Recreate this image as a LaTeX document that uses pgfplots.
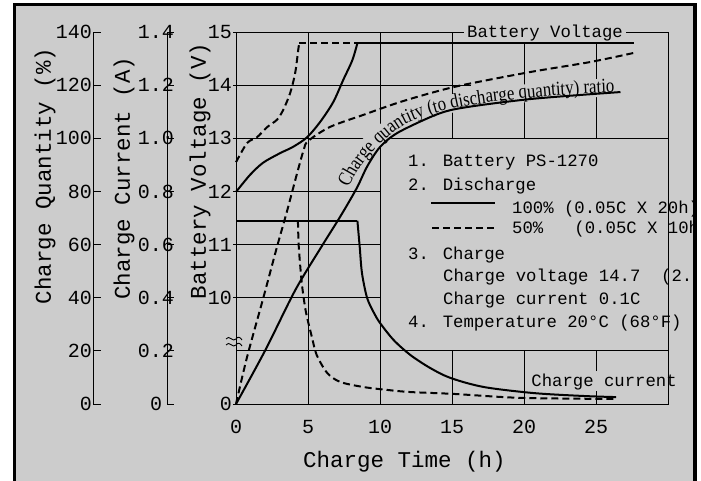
\documentclass[border=0pt]{standalone}
\usepackage{pgfplots}
\pgfplotsset{compat=1.18}
\usepackage{pgfplotstable}
\usepackage{fontspec}
\setmainfont{Liberation Mono}
\newfontfamily\curvefam[FakeStretch=0.84]{Liberation Serif}
\usetikzlibrary{decorations.text}
\newcommand\tickfont{\fontsize{20}{22}\selectfont}
\newcommand\labfont{\fontsize{22.5}{25}\selectfont}
\newcommand\legfont{\fontsize{17.3}{20}\selectfont}
\newcommand\curvefont{\curvefam\fontsize{20}{22}\selectfont}
\definecolor{bg}{RGB}{204,204,204}

% battery voltage (V)
\pgfplotstableread{
h V
0 11.99
0.97 12.31
1.88 12.54
3.06 12.72
3.97 12.84
4.94 13.02
5.85 13.31
6.75 13.68
7.45 14.10
8.08 14.47
8.43 14.79
}\voltsolidrise
\pgfplotstableread{
h V
8.43 14.79
27.65 14.79
}\voltsolidflat
\pgfplotstableread{
h V
0 12.55
0.77 12.91
1.46 13.02
2.16 13.21
2.85 13.35
3.27 13.53
3.76 13.85
4.11 14.23
4.32 14.66
4.39 14.79
}\voltdashrise
\pgfplotstableread{
h V
4.39 14.79
8.43 14.79
}\voltdashflat
% charge quantity (%)
\pgfplotstableread{
h Q
0 0
2.04 20.3
4.12 42.9
5.97 59.5
7.01 68.5
7.73 75.0
8.43 81.7
9.12 89.5
10.0 96.7
11.2 102.0
13.5 108.0
14.9 110.6
17.0 112.5
20.5 114.8
23.9 116.3
26.7 117.4
}\qsolid
\pgfplotstableread{
h Q
0 0
0.76 17.5
1.92 40.4
2.85 59.2
3.54 72.5
4.24 86.8
4.70 95.6
5.01 99.0
6.54 104.3
8.84 108.8
11.2 113.3
13.5 117.0
15.8 120.1
20.5 125.0
24.6 128.7
27.6 132.1
}\qdash
% charge current (A)
\pgfplotstableread{
h A
0 0.69
8.43 0.69
}\isolidflat
\pgfplotstableread{
h A
8.43 0.69
8.59 0.592
8.75 0.492
9.10 0.40
9.56 0.345
10.0 0.305
10.96 0.240
12.12 0.184
13.5 0.135
14.9 0.098
17.2 0.064
20.7 0.041
24.2 0.030
26.4 0.026
}\isoliddecay
\pgfplotstableread{
h A
0 0.69
4.30 0.69
}\idashflat
\pgfplotstableread{
h A
4.30 0.69
4.35 0.60
4.46 0.52
4.60 0.44
4.86 0.345
5.28 0.25
5.60 0.185
6.33 0.117
7.24 0.083
8.84 0.064
10.5 0.053
12.1 0.045
15.1 0.038
19.8 0.023
26.4 0.019
}\idashdecay

\begin{document}
\begin{tikzpicture}[x=1pt,y=1pt]
\path[use as bounding box] (0,0) rectangle (701,480);
\fill[white] (0,0) rectangle (701,480);
\fill[bg] (14.5,-10) rectangle (695,475.5);

% legend text (drawn before the axis so the right frame line lies over it)
\begin{scope}
\clip (0,0) rectangle (693.5,480);
\node[anchor=west, inner sep=0pt, font=\legfont] at (408,317) {1. Battery PS-1270};
\node[anchor=west, inner sep=0pt, font=\legfont] at (408,294) {2. Discharge};
\node[anchor=west, inner sep=0pt, font=\legfont] at (512,271) {100\% (0.05C X 20h)};
\node[anchor=west, inner sep=0pt, font=\legfont] at (512,251) {50\%~~~(0.05C X 10h};
\node[anchor=west, inner sep=0pt, font=\legfont] at (408,225) {3. Charge};
\node[anchor=west, inner sep=0pt, font=\legfont] at (443,203) {Charge voltage 14.7~~(2.};
\node[anchor=west, inner sep=0pt, font=\legfont] at (443,180) {Charge current 0.1C};
\node[anchor=west, inner sep=0pt, font=\legfont] at (408,157) {4. Temperature 20°C (68°F)};
\end{scope}
\draw[line width=2pt] (431,277) -- (495,277);
\draw[line width=2pt, dash pattern=on 7pt off 4pt] (432,252) -- (497,252);

% charge quantity axis
\begin{axis}[at={(93pt,76pt)}, anchor=south west, scale only axis, width=20pt, height=372pt,
  xmin=0, xmax=1, ymin=0, ymax=140, hide x axis, axis y line*=left,
  y axis line style={line width=0.9pt},
  ytick={0,20,40,60,80,100,120,140}, yticklabels={0,20,40,60,80,100,120,140},
  tick align=inside, major tick length=8pt, ytick style={line width=0.9pt, black},
  yticklabel style={font=\tickfont, anchor=east, inner sep=0pt, xshift=-1pt}]
\end{axis}
% charge current axis
\begin{axis}[at={(167pt,76pt)}, anchor=south west, scale only axis, width=20pt, height=372pt,
  xmin=0, xmax=1, ymin=0, ymax=1.4, hide x axis, axis y line*=left,
  y axis line style={line width=0.9pt},
  ytick={0,0.2,0.4,0.6,0.8,1.0,1.2,1.4}, yticklabels={0,0.2,0.4,0.6,0.8,1.0,1.2,1.4},
  tick align=inside, major tick length=7pt, ytick style={line width=0.9pt, black},
  yticklabel style={font=\tickfont, anchor=center, inner sep=0pt, xshift=-11pt}]
\end{axis}

% main axis
\begin{axis}[at={(236pt,76pt)}, anchor=south west, scale only axis, width=432pt, height=372pt,
  xmin=0, xmax=30, ymin=0, ymax=140, clip=false,
  axis line style={line width=0.9pt, black},
  xtick={0,5,10,15,20,25}, xticklabels={0,5,10,15,20,25},
  xtick style={draw=none},
  xticklabel style={font=\tickfont, anchor=center, inner sep=0pt, yshift=-20pt},
  ytick={0,40,60,80,100,120,140}, yticklabels={0,10,11,12,13,14,15},
  ytick pos=left, tick align=center, major tick length=6pt,
  ytick style={line width=0.9pt, black},
  yticklabel style={font=\tickfont, anchor=east, inner sep=0pt, xshift=-1pt}]
% grid lines
\draw[line width=0.9pt] (5,0) -- (5,140);
\draw[line width=0.9pt] (10,0) -- (10,140);
\draw[line width=0.9pt] (15,0) -- (15,20);
\draw[line width=0.9pt] (15,100) -- (15,140);
\draw[line width=0.9pt] (20,0) -- (20,20);
\draw[line width=0.9pt] (20,100) -- (20,140);
\draw[line width=0.9pt] (25,0) -- (25,4.9);
\draw[line width=0.9pt] (25,12.4) -- (25,20);
\draw[line width=0.9pt] (25,100) -- (25,140);
\draw[line width=0.9pt] (0,20) -- (30,20);
\draw[line width=0.9pt] (0,40) -- (10,40);
\draw[line width=0.9pt] (0,60) -- (10,60);
\draw[line width=0.9pt] (0,80) -- (10,80);
\draw[line width=0.9pt] (0,100) -- (30,100);
\draw[line width=0.9pt] (0,120) -- (16.3,120);
% background band behind the curved label
\addplot[bg, line width=18pt, smooth] coordinates {
(7.3,83.3) (8.15,90.0) (9.1,96.6) (10.35,102.5) (11.6,107.0) (13.37,110.7)
(15.53,113.7) (18.31,115.9) (21.87,117.8) (25.35,119.0) (27.44,119.4)};
\node[fill=bg, inner xsep=3pt, inner ysep=1pt, font=\legfont] at (21.46,139.8) {Battery Voltage};
% battery voltage
\addplot[black, line width=2pt, smooth] table[x=h, y expr=40+(\thisrow{V}-10)*20] {\voltsolidrise};
\addplot[black, line width=2pt] table[x=h, y expr=40+(\thisrow{V}-10)*20] {\voltsolidflat};
\addplot[black, line width=2pt, smooth, dash pattern=on 7pt off 4pt] table[x=h, y expr=40+(\thisrow{V}-10)*20] {\voltdashrise};
\addplot[black, line width=2pt, dash pattern=on 7pt off 4pt] table[x=h, y expr=40+(\thisrow{V}-10)*20] {\voltdashflat};
% charge quantity
\addplot[black, line width=2pt, smooth] table[x=h, y=Q] {\qsolid};
\addplot[black, line width=2pt, smooth, dash pattern=on 7pt off 4pt] table[x=h, y=Q] {\qdash};
% charge current
\addplot[black, line width=2pt] table[x=h, y expr=\thisrow{A}*100] {\isolidflat};
\addplot[black, line width=2pt, smooth] table[x=h, y expr=\thisrow{A}*100] {\isoliddecay};
\addplot[black, line width=2pt, dash pattern=on 7pt off 4pt] table[x=h, y expr=\thisrow{A}*100] {\idashflat};
\addplot[black, line width=2pt, smooth, dash pattern=on 7pt off 4pt] table[x=h, y expr=\thisrow{A}*100] {\idashdecay};
\node[font=\legfont, inner sep=0pt] at (25.56,8.3) {Charge current};
\end{axis}

% curved label
\path[decorate, decoration={text along path,
  text={|\curvefont|Charge quantity (to discharge quantity) ratio}}]
  plot[smooth] coordinates {(348.5,292.5) (358.5,310.5) (372,328) (389,344) (406,356) (430,365.5)
  (460,373) (500,379) (550,384) (600,387) (650,388.5)};

% axis titles
\node[rotate=90, font=\labfont] at (45,304) {Charge Quantity (\%)};
\node[rotate=90, font=\labfont] at (124,302) {Charge Current (A)};
\node[rotate=90, font=\labfont] at (200,309) {Battery Voltage (V)};
\node[font=\labfont] at (404.5,18) {Charge Time (h)};

% axis break mark
\draw[line width=0.9pt] (226,141) .. controls (229,146) and (233,137) .. (236,141) .. controls (238,144) and (240,143) .. (242,140);
\draw[line width=0.9pt] (226,135) .. controls (229,140) and (233,131) .. (236,135) .. controls (238,138) and (240,137) .. (242,134);

% outer frame
\draw[line width=3.5pt] (14.5,-10) rectangle (695,475.5);
\end{tikzpicture}
\end{document}
